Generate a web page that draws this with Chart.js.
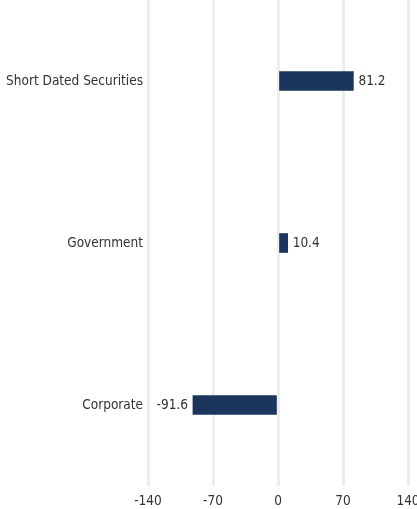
<!DOCTYPE html>
<html>
<head>
<meta charset="utf-8">
<script src="https://cdn.jsdelivr.net/npm/chart.js@4"></script>
<style>
  html, body { margin: 0; padding: 0; background: #fff; }
  #wrap { width: 417px; height: 509px; position: relative; }
</style>
</head>
<body>
<div id="wrap"><canvas id="chart"></canvas></div>
<script>
const categories = ['Short Dated Securities', 'Government', 'Corporate'];
const values = [81.2, 10.4, -91.6];
const tickValues = [-140, -70, 0, 70, 140];

const FONT = '"DejaVu Sans", sans-serif';
const FONT_SIZE = 13.5;
Chart.defaults.font.family = FONT;
Chart.defaults.font.size = FONT_SIZE;
Chart.defaults.font.weight = 'condensed'; // ends up as font-stretch in the canvas font string
Chart.defaults.color = '#333';

// value labels at the end of each bar
const barLabels = {
    id: 'barLabels',
    afterDatasetsDraw(chart) {
        const ctx = chart.ctx;
        const meta = chart.getDatasetMeta(0);
        ctx.save();
        ctx.font = 'condensed ' + FONT_SIZE + 'px ' + FONT;
        ctx.fillStyle = '#333';
        ctx.textBaseline = 'middle';
        meta.data.forEach((bar, i) => {
            const v = values[i];
            if (v >= 0) {
                ctx.textAlign = 'left';
                ctx.fillText(v.toFixed(1), bar.x + 5, bar.y);
            } else {
                ctx.textAlign = 'right';
                ctx.fillText(v.toFixed(1), bar.x - 5, bar.y);
            }
        });
        ctx.restore();
    }
};

new Chart(document.getElementById('chart'), {
    type: 'bar',
    data: {
        labels: categories,
        datasets: [{
            data: values,
            backgroundColor: '#1b365d',
            barThickness: 19
        }]
    },
    options: {
        indexAxis: 'y',
        responsive: true, maintainAspectRatio: false,
        animation: false,
        layout: { padding: { top: -2, right: 9, bottom: 0, left: 0 } },
        plugins: { legend: { display: false }, tooltip: { enabled: false } },
        scales: {
            x: {
                min: -140, max: 140,
                afterBuildTicks: axis => { axis.ticks = tickValues.map(v => ({ value: v })); },
                afterFit: axis => { axis.paddingLeft = 0; axis.paddingRight = 0; axis.height = 23; },
                grid: { color: '#ededed', lineWidth: 3, drawTicks: false },
                border: { display: false },
                ticks: { color: '#333', padding: 7, maxRotation: 0 }
            },
            y: {
                afterFit: axis => { axis.paddingTop = 0; axis.paddingBottom = 0; axis.width = 148; },
                grid: { display: false, drawTicks: false },
                border: { display: false },
                ticks: { color: '#333', padding: 5 }
            }
        }
    },
    plugins: [barLabels]
});
</script>
</body>
</html>
